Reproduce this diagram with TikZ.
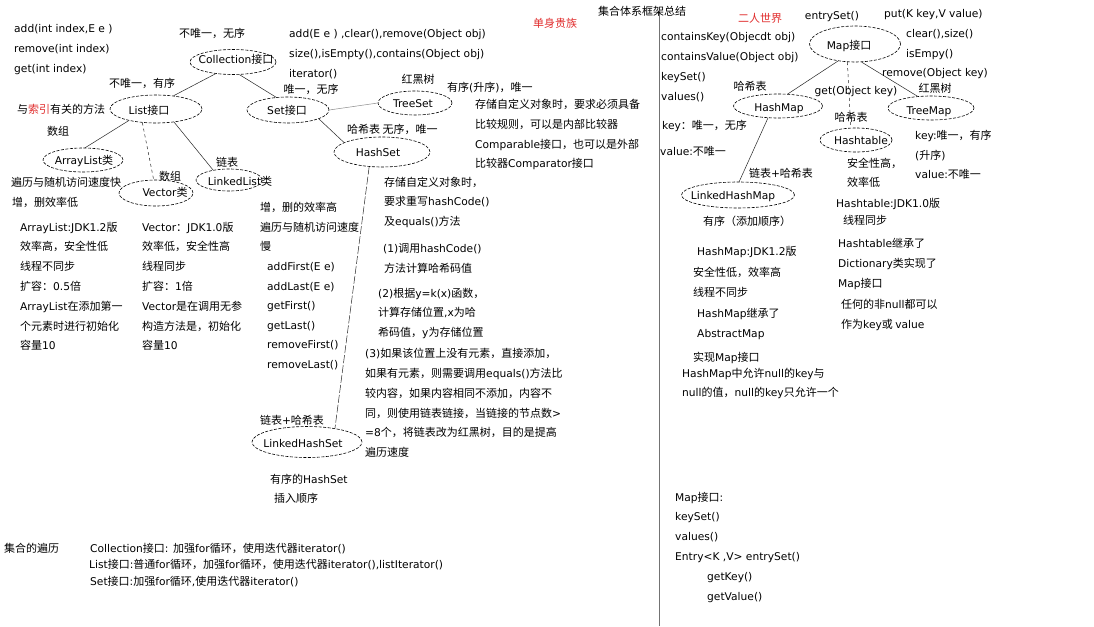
\documentclass[tikz,border=0pt]{standalone}
\usepackage{fontspec}
\setmainfont{DejaVu Sans}[Scale=0.97]
\newfontfamily\cjkfont{Noto Sans CJK SC}
\usetikzlibrary{shapes.geometric}
\chardef\CJKcls=50
\newcount\cjkcnt
\def\setcjkrange#1#2{\cjkcnt=#1\relax\loop\XeTeXcharclass\cjkcnt=\CJKcls\relax\ifnum\cjkcnt<#2\relax\advance\cjkcnt by 1\relax\repeat}
\setcjkrange{"3000}{"303F}
\setcjkrange{"4E00}{"9FFF}
\setcjkrange{"FF00}{"FFEF}
\XeTeXinterchartoks 0 \CJKcls = {\cjkfont}
\XeTeXinterchartoks 4095 \CJKcls = {\cjkfont}
\XeTeXinterchartoks \CJKcls 0 = {\rmfamily}
\XeTeXinterchartoks 4095 0 = {\rmfamily}
\XeTeXinterchartokenstate=1
\definecolor{myred}{RGB}{225,45,45}
\begin{document}
\begin{tikzpicture}[x=1pt,y=-1pt,
  every node/.style={font=\fontsize{11}{13}\selectfont, inner sep=0pt, text height=8.5pt, text depth=0pt},
  tx/.style={anchor=west},
  ell/.style={ellipse, draw, dash pattern=on 3pt off 1.5pt, line width=0.6pt},
  ln/.style={line width=0.5pt, draw=black!85},
]
\useasboundingbox[fill=white] (0,0) rectangle (1094,626);
% vertical separator
\coordinate (vtop) at (659,10);
\coordinate (vbot) at (659,626);
\draw[black!55, line width=0.8pt] (vtop) -- (vbot);

% ===== ellipses =====
\node[ell, minimum width=86, minimum height=25] (coll) at (233,62) {};
\node[ell, minimum width=92, minimum height=28] (list) at (156,109) {};
\node[ell, minimum width=80, minimum height=24] (arr) at (83,160) {};
\node[ell, minimum width=74, minimum height=26] (vec) at (156,193) {};
\node[ell, minimum width=66, minimum height=22] (llist) at (229,180) {};
\node[ell, minimum width=82, minimum height=26] (set) at (288,110) {};
\node[ell, minimum width=74, minimum height=24] (tset) at (415,103) {};
\node[ell, minimum width=96, minimum height=30] (hset) at (382,152) {};
\node[ell, minimum width=110, minimum height=31] (lhset) at (307,442) {};
\node[ell, minimum width=91, minimum height=36] (map) at (855,44) {};
\node[ell, minimum width=89, minimum height=24] (hmap) at (778,106) {};
\node[ell, minimum width=86, minimum height=24] (tmap) at (931,108) {};
\node[ell, minimum width=72, minimum height=24] (htab) at (856,140) {};
\node[ell, minimum width=113, minimum height=26] (lhmap) at (738,195) {};

% ellipse texts
\node (collT) at (236,59) {Collection接口};
\node (listT) at (149,110) {List接口};
\node (arrT) at (84,160) {ArrayList类};
\node (vecT) at (165,192) {Vector类};
\node (llistT) at (240,181) {LinkedList类};
\node (setT) at (287,110) {Set接口};
\node (tsetT) at (413,103) {TreeSet};
\node (hsetT) at (378,152) {HashSet};
\node (lhsetT) at (303,443) {LinkedHashSet};
\node (mapT) at (849,45) {Map接口};
\node (hmapT) at (779,107) {HashMap};
\node (tmapT) at (929,110) {TreeMap};
\node (htabT) at (861,140) {Hashtable};
\node (lhmapT) at (733,195) {LinkedHashMap};

% ===== connectors =====
\draw[ln] (coll.214) -- (list.37);
\draw[ln] (coll.297) -- (set.133);
\draw[ln] (list.203) -- (arr.80);
\draw[ln, dashed] (list.225) -- (vec.100);
\draw[ln] (list.324) -- (llist.148);
\draw[ln] (set.344) -- (hset.166);
\draw[ln, draw=black!45] (set.east) -- (tset.west);
\draw[ln, dash pattern=on 8pt off 2pt] (hset.229) -- (lhset.26);
\draw[ln] (map.225) -- (hmap.51);
\draw[ln, dashed] (map.247) -- (htab.113);
\draw[ln] (map.290) -- (tmap.139);
\draw[ln] (hmap.230) -- (lhmap.85);

% ===== left/top texts =====
\node[tx] (t1) at (14,28) {add(int index,E e )};
\node[tx] (t2) at (14,48) {remove(int index)};
\node[tx] (t3) at (14,68) {get(int index)};
\node (t4) at (212,33) {不唯一，无序};
\node[tx] (t5) at (289,33) {add(E e ) ,clear(),remove(Object obj)};
\node[tx] (t6) at (289,53) {size(),isEmpty(),contains(Object obj)};
\node[tx] (t7) at (289,73) {iterator()};
\node (t8) at (142,83) {不唯一，有序};
\node[tx] (t9) at (17,109) {与{\color{myred}索引}有关的方法};
\node (t10) at (58,131) {数组};
\node (t11) at (170,176) {数组};
\node (t12) at (227,162) {链表};
\node (t13) at (311,89) {唯一，无序};
\node (t14) at (418,79) {红黑树};
\node[tx] (t15) at (447,87) {有序(升序)，唯一};
\node[tx] (t16) at (475,104) {存储自定义对象时，要求必须具备};
\node[tx] (t17) at (475,124) {比较规则，可以是内部比较器};
\node[tx] (t18) at (475,144) {Comparable接口，也可以是外部};
\node[tx] (t19) at (475,163) {比较器Comparator接口};
\node[tx] (t20) at (347,129) {哈希表 无序，唯一};

% HashSet notes
\node[tx] (h1) at (384,182) {存储自定义对象时，};
\node[tx] (h2) at (384,201) {要求重写hashCode()};
\node[tx] (h3) at (384,221) {及equals()方法};
\node[tx] (h4) at (383,248) {(1)调用hashCode()};
\node[tx] (h5) at (384,268) {方法计算哈希码值};
\node[tx] (h6) at (378,293) {(2)根据y=k(x)函数，};
\node[tx] (h7) at (378,312) {计算存储位置,x为哈};
\node[tx] (h8) at (378,332) {希码值，y为存储位置};
\node[tx] (h9) at (365,353) {(3)如果该位置上没有元素，直接添加，};
\node[tx] (h10) at (365,373) {如果有元素，则需要调用equals()方法比};
\node[tx] (h11) at (365,393) {较内容，如果内容相同不添加，内容不};
\node[tx] (h12) at (365,413) {同，则使用链表链接，当链接的节点数>};
\node[tx] (h13) at (365,432) {=8个，将链表改为红黑树，目的是提高};
\node[tx] (h14) at (365,452) {遍历速度};
\node (h15) at (292,420) {链表+哈希表};
\node[tx] (h16) at (270,479) {有序的HashSet};
\node[tx] (h17) at (274,498) {插入顺序};

% ArrayList notes
\node[tx] (a1) at (11,182) {遍历与随机访问速度快};
\node[tx] (a2) at (12,202) {增，删效率低};
\node[tx] (a3) at (20,227) {ArrayList:JDK1.2版};
\node[tx] (a4) at (20,246) {效率高，安全性低};
\node[tx] (a5) at (20,266) {线程不同步};
\node[tx] (a6) at (20,286) {扩容：0.5倍};
\node[tx] (a7) at (20,306) {ArrayList在添加第一};
\node[tx] (a8) at (20,326) {个元素时进行初始化};
\node[tx] (a9) at (20,345) {容量10};

% Vector notes
\node[tx] (v1) at (142,227) {Vector：JDK1.0版};
\node[tx] (v2) at (142,246) {效率低，安全性高};
\node[tx] (v3) at (142,266) {线程同步};
\node[tx] (v4) at (142,286) {扩容：1倍};
\node[tx] (v5) at (142,306) {Vector是在调用无参};
\node[tx] (v6) at (142,326) {构造方法是，初始化};
\node[tx] (v7) at (142,345) {容量10};

% LinkedList notes
\node[tx] (l1) at (260,207) {增，删的效率高};
\node[tx] (l2) at (260,227) {遍历与随机访问速度};
\node[tx] (l3) at (260,246) {慢};
\node[tx] (l4) at (267,266) {addFirst(E e)};
\node[tx] (l5) at (267,286) {addLast(E e)};
\node[tx] (l6) at (267,305) {getFirst()};
\node[tx] (l7) at (267,325) {getLast()};
\node[tx] (l8) at (267,344) {removeFirst()};
\node[tx] (l9) at (267,364) {removeLast()};

% ===== title / red labels =====
\node[tx] (title) at (598,11) {集合体系框架总结};
\node[text=myred] (red1) at (555,23) {单身贵族};
\node[text=myred] (red2) at (760,18) {二人世界};

% ===== Map side =====
\node (m1) at (832,15) {entrySet()};
\node[tx] (m2) at (884,13) {put(K key,V value)};
\node[tx] (m3) at (906,33) {clear(),size()};
\node[tx] (m4) at (906,53) {isEmpy()};
\node[tx] (m5) at (882,72) {remove(Object key)};
\node (m6) at (856,90) {get(Object key)};
\node[tx] (m7) at (661,36) {containsKey(Objecdt obj)};
\node[tx] (m8) at (661,56) {containsValue(Object obj)};
\node[tx] (m9) at (661,76) {keySet()};
\node[tx] (m10) at (661,96) {values()};
\node (m11) at (750,86) {哈希表};
\node (m12) at (935,88) {红黑树};
\node (m13) at (851,117) {哈希表};
\node[tx] (m14) at (662,125) {key：唯一，无序};
\node[tx] (m15) at (660,151) {value:不唯一};
\node[tx] (m16) at (847,163) {安全性高，};
\node[tx] (m17) at (847,182) {效率低};
\node[tx] (m18) at (915,135) {key:唯一，有序};
\node[tx] (m19) at (915,155) {(升序)};
\node[tx] (m20) at (915,174) {value:不唯一};
\node (m21) at (781,173) {链表+哈希表};
\node (m22) at (747,221) {有序（添加顺序）};

% Hashtable notes
\node[tx] (ht1) at (836,203) {Hashtable:JDK1.0版};
\node[tx] (ht2) at (843,220) {线程同步};
\node[tx] (ht3) at (838,243) {Hashtable继承了};
\node[tx] (ht4) at (838,263) {Dictionary类实现了};
\node[tx] (ht5) at (838,283) {Map接口};
\node[tx] (ht6) at (841,304) {任何的非null都可以};
\node[tx] (ht7) at (841,324) {作为key或 value};

% HashMap notes
\node[tx] (hm1) at (697,251) {HashMap:JDK1.2版};
\node[tx] (hm2) at (693,272) {安全性低，效率高};
\node[tx] (hm3) at (693,292) {线程不同步};
\node[tx] (hm4) at (697,313) {HashMap继承了};
\node[tx] (hm5) at (697,333) {AbstractMap};
\node[tx] (hm6) at (693,357) {实现Map接口};
\node[tx] (hm7) at (682,373) {HashMap中允许null的key与};
\node[tx] (hm8) at (682,392) {null的值，null的key只允许一个};

% Map traversal
\node[tx] (mp1) at (675,497) {Map接口:};
\node[tx] (mp2) at (675,516) {keySet()};
\node[tx] (mp3) at (675,536) {values()};
\node[tx] (mp4) at (675,556) {Entry<K ,V> entrySet()};
\node[tx] (mp5) at (707,576) {getKey()};
\node[tx] (mp6) at (707,596) {getValue()};

% Collection traversal
\node[tx] (c1) at (4,548) {集合的遍历};
\node[tx] (c2) at (90,548) {Collection接口: 加强for循环，使用迭代器iterator()};
\node[tx] (c3) at (89,564) {List接口:普通for循环，加强for循环，使用迭代器iterator(),listIterator()};
\node[tx] (c4) at (90,581) {Set接口:加强for循环,使用迭代器iterator()};
\end{tikzpicture}
\end{document}
